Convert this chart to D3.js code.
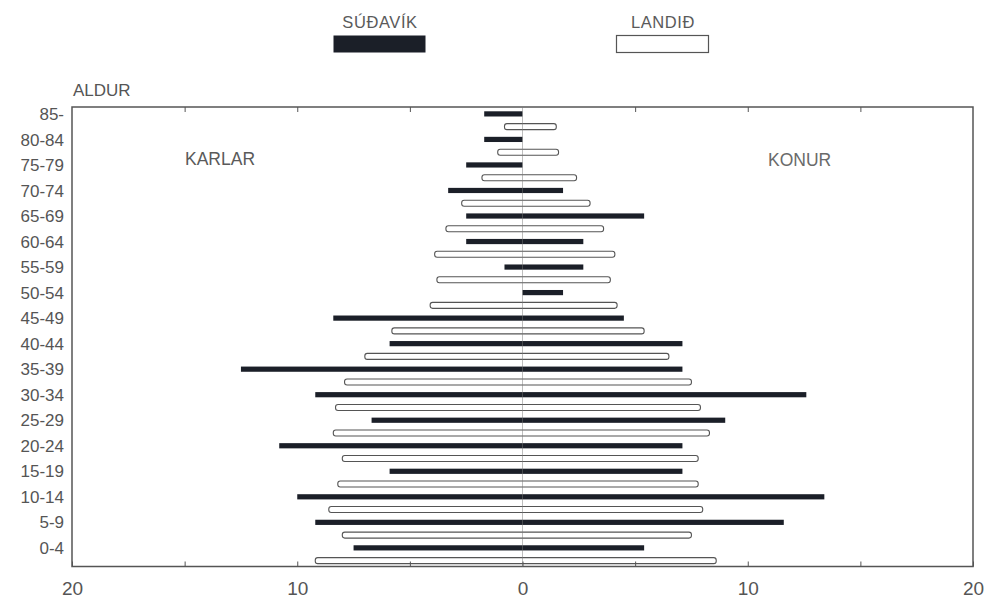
<!DOCTYPE html>
<html>
<head>
<meta charset="utf-8">
<script src="https://cdn.jsdelivr.net/npm/d3@7"></script>
<style>
  body { margin: 0; background: #fff; }
  svg { display: block; font-family: "Liberation Sans", Arial, sans-serif; }
</style>
</head>
<body>
<svg id="chart" width="988" height="604"></svg>
<script>
// ---- DATA (percent of population, ordered 0-4 ... 85-) ----
const ages = ["0-4","5-9","10-14","15-19","20-24","25-29","30-34","35-39","40-44",
              "45-49","50-54","55-59","60-64","65-69","70-74","75-79","80-84","85-"];
// Súðavík (dark bars)
const sudavikKarlar = [7.5, 9.2, 10.0, 5.9, 10.8, 6.7, 9.2, 12.5, 5.9, 8.4, 0, 0.8, 2.5, 2.5, 3.3, 2.5, 1.7, 1.7];
const sudavikKonur  = [5.4, 11.6, 13.4, 7.1, 7.1, 9.0, 12.6, 7.1, 7.1, 4.5, 1.8, 2.7, 2.7, 5.4, 1.8, 0, 0, 0];
// Landið (white bars)
const landidKarlar  = [9.2, 8.0, 8.6, 8.2, 8.0, 8.4, 8.3, 7.9, 7.0, 5.8, 4.1, 3.8, 3.9, 3.4, 2.7, 1.8, 1.1, 0.8];
const landidKonur   = [8.6, 7.5, 8.0, 7.8, 7.8, 8.3, 7.9, 7.5, 6.5, 5.4, 4.2, 3.9, 4.1, 3.6, 3.0, 2.4, 1.6, 1.5];
const xTicks = [-20, -15, -10, -5, 0, 5, 10, 15, 20];
const seriesNames = ["SÚÐAVÍK", "LANDIÐ"];

// ---- LAYOUT ----
const svg = d3.select("#chart");
const plot = { left: 72, right: 973, top: 107, bottom: 566.5 };
const textColor = "#555";
const darkColor = "#1b1f28";

const x = d3.scaleLinear().domain([-20, 20]).range([plot.left, plot.right]);
const y = d3.scaleBand().domain(ages.slice().reverse()).range([plot.top, plot.bottom]).padding(0);
const step = y.step();
const darkOff = step * 0.27, whiteOff = step * 0.77;

// frame
svg.append("rect")
  .attr("x", plot.left).attr("y", plot.top)
  .attr("width", plot.right - plot.left).attr("height", plot.bottom - plot.top)
  .attr("fill", "none").attr("stroke", "#555").attr("stroke-width", 1.5);

const rows = ages.map((a, i) => ({
  age: a, sm: sudavikKarlar[i], sf: sudavikKonur[i], lm: landidKarlar[i], lf: landidKonur[i]
}));

// bars: Landið (white)
svg.append("g").selectAll("rect").data(rows).join("rect")
  .attr("x", d => x(-d.lm))
  .attr("y", d => y(d.age) + whiteOff - 3)
  .attr("width", d => x(d.lf) - x(-d.lm))
  .attr("height", 6)
  .attr("rx", 2.5)
  .attr("fill", "#fff").attr("stroke", "#555").attr("stroke-width", 1.1);

// bars: Súðavík (dark)
svg.append("g").selectAll("rect").data(rows).join("rect")
  .attr("x", d => x(-d.sm))
  .attr("y", d => y(d.age) + darkOff - 2.6)
  .attr("width", d => x(d.sf) - x(-d.sm))
  .attr("height", 5.2)
  .attr("fill", darkColor);

// zero line
svg.append("line")
  .attr("x1", x(0)).attr("x2", x(0))
  .attr("y1", plot.top).attr("y2", plot.bottom)
  .attr("stroke", "#777").attr("stroke-width", 0.8).attr("opacity", 0.6);

// x axes (ticks inward)
const fmt = v => (v % 10 === 0 ? String(Math.abs(v)) : "");
const bottomAxis = d3.axisBottom(x).tickValues(xTicks).tickFormat(fmt)
  .tickSizeInner(-5).tickSizeOuter(0).tickPadding(15);
const gB = svg.append("g").attr("transform", `translate(0,${plot.bottom})`).call(bottomAxis);
gB.select(".domain").remove();
gB.selectAll("line").attr("stroke", "#555");
gB.selectAll("text").attr("font-size", 19).attr("fill", textColor)
  .attr("font-family", "Liberation Sans, Arial, sans-serif");

const topAxis = d3.axisTop(x).tickValues(xTicks.filter(v => Math.abs(v) !== 20 && v !== 0))
  .tickFormat("").tickSizeInner(-5).tickSizeOuter(0);
const gT = svg.append("g").attr("transform", `translate(0,${plot.top})`).call(topAxis);
gT.select(".domain").remove();
gT.selectAll("line").attr("stroke", "#555");

// y labels
svg.append("g").selectAll("text").data(ages).join("text")
  .attr("x", 64)
  .attr("y", d => y(d) + darkOff)
  .attr("dy", "0.36em")
  .attr("text-anchor", "end")
  .attr("font-size", 17)
  .attr("fill", textColor)
  .text(d => d);

// titles
svg.append("text").attr("x", 73).attr("y", 96).attr("font-size", 17)
  .attr("fill", textColor).text("ALDUR");
svg.append("text").attr("x", 185).attr("y", 165).attr("font-size", 17.5)
  .attr("fill", "#5a5a5a").text("KARLAR");
svg.append("text").attr("x", 768).attr("y", 166).attr("font-size", 17.5)
  .attr("fill", "#6a6a6a").text("KONUR");

// legend
const legend = [
  { name: seriesNames[0], cx: 380, fill: darkColor, stroke: "none" },
  { name: seriesNames[1], cx: 663, fill: "#fff", stroke: "#555" }
];
const lg = svg.append("g").selectAll("g").data(legend).join("g");
lg.append("text")
  .attr("x", d => d.cx).attr("y", 28)
  .attr("text-anchor", "middle").attr("font-size", 16.5)
  .attr("letter-spacing", 0.6)
  .attr("fill", "#5a5a5a").text(d => d.name);
lg.append("rect")
  .attr("x", d => d.cx - 46.5).attr("y", 35.5)
  .attr("width", 92).attr("height", 17)
  .attr("fill", d => d.fill).attr("stroke", d => d.stroke).attr("stroke-width", 1.2);
</script>
</body>
</html>
